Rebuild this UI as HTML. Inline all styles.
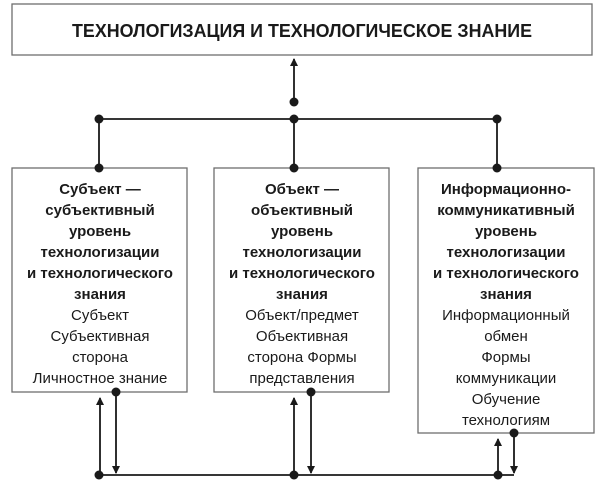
<!DOCTYPE html>
<html><head><meta charset="utf-8"><style>
html,body{margin:0;padding:0;background:#fff;}
svg{display:block;}
text{font-family:"Liberation Sans","DejaVu Sans",sans-serif;fill:#1a1a1a;}
.b{font-weight:bold;}
</style></head><body>
<svg width="600" height="487" viewBox="0 0 600 487" xmlns="http://www.w3.org/2000/svg">
<defs>
<marker id="ah" markerWidth="8" markerHeight="10" refX="7" refY="4" orient="auto" markerUnits="userSpaceOnUse">
<path d="M0,0 L8,4 L0,8 Z" fill="#1a1a1a"/>
</marker>
</defs>
<g fill="none" stroke="#6e6e6e" stroke-width="1.3">
<rect x="12" y="4" width="580" height="51"/>
<rect x="12" y="168" width="175" height="224"/>
<rect x="214" y="168" width="175" height="224"/>
<rect x="418" y="168" width="176" height="265"/>
</g>
<text x="302" y="37" text-anchor="middle" class="b" font-size="18" textLength="460" lengthAdjust="spacingAndGlyphs">ТЕХНОЛОГИЗАЦИЯ И ТЕХНОЛОГИЧЕСКОЕ ЗНАНИЕ</text>
<g stroke="#1a1a1a" stroke-width="1.8" fill="none">
<line x1="294" y1="102" x2="294" y2="59" marker-end="url(#ah)"/>
<line x1="99" y1="119" x2="497" y2="119"/>
<line x1="99" y1="119" x2="99" y2="168"/>
<line x1="294" y1="119" x2="294" y2="168"/>
<line x1="497" y1="119" x2="497" y2="168"/>
<line x1="99" y1="475" x2="514" y2="475"/>
<line x1="100" y1="475" x2="100" y2="398" marker-end="url(#ah)"/>
<line x1="116" y1="392" x2="116" y2="473" marker-end="url(#ah)"/>
<line x1="294" y1="475" x2="294" y2="398" marker-end="url(#ah)"/>
<line x1="311" y1="392" x2="311" y2="473" marker-end="url(#ah)"/>
<line x1="498" y1="475" x2="498" y2="439" marker-end="url(#ah)"/>
<line x1="514" y1="433" x2="514" y2="473" marker-end="url(#ah)"/>
</g>
<g fill="#1a1a1a">
<circle cx="294" cy="102" r="4.5"/>
<circle cx="99" cy="119" r="4.5"/><circle cx="294" cy="119" r="4.5"/><circle cx="497" cy="119" r="4.5"/>
<circle cx="99" cy="168" r="4.5"/><circle cx="294" cy="168" r="4.5"/><circle cx="497" cy="168" r="4.5"/>
<circle cx="116" cy="392" r="4.5"/><circle cx="311" cy="392" r="4.5"/><circle cx="514" cy="433" r="4.5"/>
<circle cx="99" cy="475" r="4.5"/><circle cx="294" cy="475" r="4.5"/><circle cx="498" cy="475" r="4.5"/>
</g>
<g font-size="15" text-anchor="middle">
<text x="100" y="194" class="b">Субъект —</text>
<text x="100" y="215" class="b">субъективный</text>
<text x="100" y="236" class="b">уровень</text>
<text x="100" y="257" class="b">технологизации</text>
<text x="100" y="278" class="b">и технологического</text>
<text x="100" y="299" class="b">знания</text>
<text x="100" y="320">Субъект</text>
<text x="100" y="341">Субъективная</text>
<text x="100" y="362">сторона</text>
<text x="100" y="383">Личностное знание</text>

<text x="302" y="194" class="b">Объект —</text>
<text x="302" y="215" class="b">объективный</text>
<text x="302" y="236" class="b">уровень</text>
<text x="302" y="257" class="b">технологизации</text>
<text x="302" y="278" class="b">и технологического</text>
<text x="302" y="299" class="b">знания</text>
<text x="302" y="320">Объект/предмет</text>
<text x="302" y="341">Объективная</text>
<text x="302" y="362">сторона Формы</text>
<text x="302" y="383">представления</text>

<text x="506" y="194" class="b">Информационно-</text>
<text x="506" y="215" class="b">коммуникативный</text>
<text x="506" y="236" class="b">уровень</text>
<text x="506" y="257" class="b">технологизации</text>
<text x="506" y="278" class="b">и технологического</text>
<text x="506" y="299" class="b">знания</text>
<text x="506" y="320">Информационный</text>
<text x="506" y="341">обмен</text>
<text x="506" y="362">Формы</text>
<text x="506" y="383">коммуникации</text>
<text x="506" y="404">Обучение</text>
<text x="506" y="425">технологиям</text>
</g>
</svg>
</body></html>
